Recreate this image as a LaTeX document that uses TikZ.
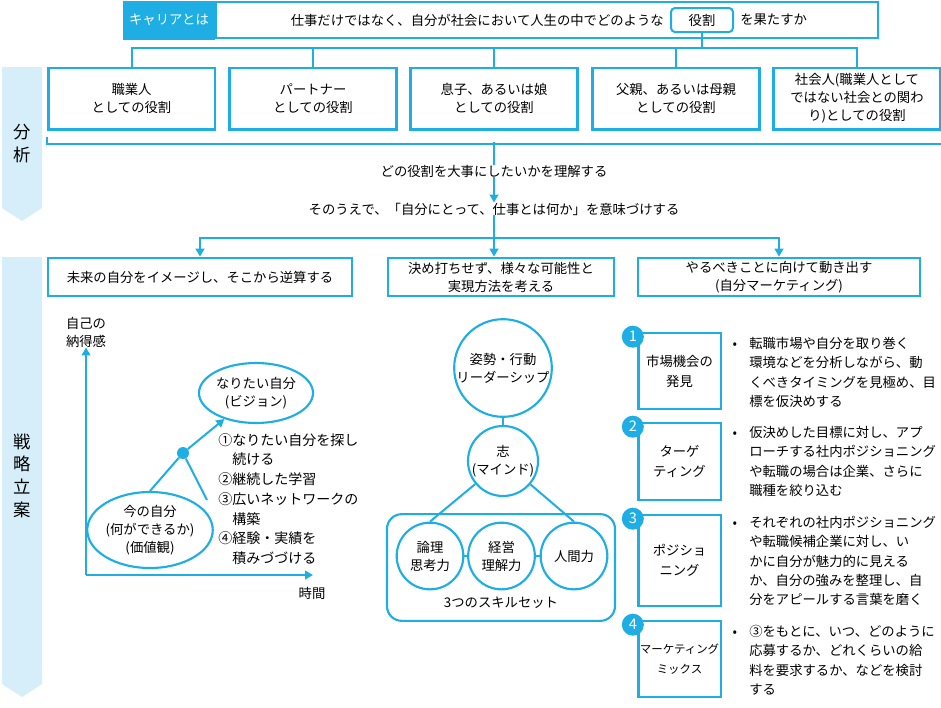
\documentclass[tikz,border=0pt]{standalone}
\usepackage{fontspec}
\setmainfont{Noto Sans CJK JP}
\usetikzlibrary{shapes.geometric,arrows.meta,calc,positioning}
\definecolor{cblue}{HTML}{1FAEE3}
\definecolor{clight}{HTML}{D5EEF9}
\tikzset{
  txt/.style={font=\fontsize{10}{13.5}\selectfont,inner sep=0pt,align=center},
  box/.style={txt,draw=cblue,line width=2pt},
  rolebox/.style={box,minimum width=125pt,minimum height=46pt},
  planbox/.style={box,minimum height=28.5pt},
  mixbox/.style={box,minimum width=62pt,font=\fontsize{10}{15}\selectfont},
  desc/.style={txt,align=left,anchor=north west,font=\fontsize{10}{14.5}\selectfont},
  side/.style={txt,font=\fontsize{13}{17}\selectfont},
  link/.style={draw=cblue,line width=1.5pt},
  arr/.style={link,-{Triangle[length=6pt,width=6.5pt]}},
  ring/.style={txt,circle,draw=cblue,line width=1.6pt},
  oval/.style={txt,ellipse,draw=cblue,line width=1.6pt},
  badge/.style={circle,fill=cblue,text=white,inner sep=0pt,minimum size=16.5pt,font=\fontsize{11}{11}\selectfont},
}
\begin{document}
\begin{tikzpicture}[x=0.75pt,y=-0.75pt]
  \useasboundingbox (0,0) rectangle (941,707);
  % side bands
  \fill[clight] (2,67) -- (42,67) -- (42,208) -- (22,221) -- (2,208) -- cycle;
  \fill[clight] (2,257) -- (42,257) -- (42,684) -- (22,697) -- (2,684) -- cycle;
  \node[side] (bunseki) at (22,143.5) {分\\析};
  \node[side] (senryaku) at (22,475.5) {戦\\略\\立\\案};

  % question
  \node[box,minimum width=497pt,minimum height=27pt] (qbox) at (546.5,20) {};
  \node[txt,fill=cblue,text=white,minimum width=69pt,minimum height=29.25pt] (career) at (169,20) {キャリアとは};
  \node[txt,anchor=east] (q1) at (664,20) {仕事だけではなく、自分が社会において人生の中でどのような};
  \node[txt,draw=cblue,line width=1.5pt,rounded corners=3pt,minimum width=46.5pt,minimum height=18pt] (yaku) at (702,20) {役割};
  \node[txt,anchor=west] (q2) at (740,20) {を果たすか};

  % roles
  \node[rolebox] (r1) at (131.5,98.5) {職業人\\としての役割};
  \node[rolebox] (r2) at (313,98.5) {パートナー\\としての役割};
  \node[rolebox] (r3) at (494,98.5) {息子、あるいは娘\\としての役割};
  \node[rolebox] (r4) at (676,98.5) {父親、あるいは母親\\としての役割};
  \node[rolebox] (r5) at (857,98.5) {社会人(職業人として\\ではない社会との関わ\\り)としての役割};
  \coordinate (hub) at (702,48);
  \draw[link] (yaku) -- (hub);
  \draw[link] (r1.north) |- (hub) -| (r5.north);
  \foreach \r in {r2,r3,r4}
    \draw[link] (\r.north) -- (\r.north |- hub);
  \draw[link] ($(r1.south west)+(0,6)$) -- ($(r1.south west)+(0,13)$)
    -- ($(r5.south east)+(0,13)$) -- ($(r5.south east)+(0,6)$);
  \coordinate (brc) at (494,142);

  \node[txt] (t1) at (494,171) {どの役割を大事にしたいかを理解する};
  \node[txt] (t2) at (494,209) {そのうえで、「自分にとって、仕事とは何か」を意味づけする};
  \draw[link] (brc) -- (t1);
  \draw[arr] (t1) -- (t2);

  % plans
  \node[planbox,minimum width=228pt] (pa) at (200,277) {未来の自分をイメージし、そこから逆算する};
  \node[planbox,minimum width=169.5pt] (pb) at (501,277) {決め打ちせず、様々な可能性と\\実現方法を考える};
  \node[planbox,minimum width=211.5pt] (pc) at (779,277) {やるべきことに向けて動き出す\\(自分マーケティング)};
  \coordinate (sp) at (494,238);
  \draw[link] (t2) -- (sp);
  \draw[arr] (sp) -| (pa);
  \draw[arr] (sp) -- (sp |- pb.north);
  \draw[arr] (sp) -| (pc);

  % vision chart
  \coordinate (o) at (86,575);
  \coordinate (xend) at (313,575);
  \node[txt] (ylab) at (86,332) {自己の\\納得感};
  \node[txt] (xlab) at (312,593) {時間};
  \draw[arr] (o) -- (ylab);
  \draw[arr] (o) -- (xend);
  \node[oval,minimum width=85.5pt,minimum height=45pt] (vision) at (256,393) {なりたい自分\\(ビジョン)};
  \node[oval,minimum width=84.75pt,minimum height=57pt] (now) at (150,530) {今の自分\\(何ができるか)\\(価値観)};
  \node[circle,fill=cblue,inner sep=0pt,minimum size=9pt] (dot) at (183,453) {};
  \coordinate (lend) at (207,500);
  \draw[arr] (dot) -- (vision);
  \draw[link] (dot) -- (now.north);
  \draw[link] (dot) -- (lend);
  \node[desc,font=\fontsize{10.5}{14.8}\selectfont] (steps) at (218,433) {①なりたい自分を探し\\\phantom{①}続ける\\②継続した学習\\③広いネットワークの\\\phantom{③}構築\\④経験・実績を\\\phantom{④}積みづづける};

  % mindset
  \node[ring,minimum size=51pt] (c1) at (503,368) {姿勢・行動\\リーダーシップ};
  \node[ring,minimum size=51pt] (c2) at (503,461) {志\\(マインド)};
  \node[txt,draw=cblue,line width=1.6pt,rounded corners=11pt,minimum width=171pt,minimum height=80pt] (skills) at (501,567.5) {};
  \node[ring,minimum size=50pt] (s1) at (430,556) {論理\\思考力};
  \node[ring,minimum size=50pt] (s2) at (501.5,556) {経営\\理解力};
  \node[ring,minimum size=50pt] (s3) at (574,556) {人間力};
  \node[txt] (skl) at (501,603) {3つのスキルセット};
  \draw[link] (c1) -- (c2);
  \draw[link] (c2) -- (s1.north);
  \draw[link] (c2) -- (s3.north);
  \draw[link] (s1) -- (s2);
  \draw[link] (s2) -- (s3);

  % marketing
  \node[mixbox,minimum height=57pt] (m1) at (679.5,371) {市場機会の\\発見};
  \node[mixbox,minimum height=57.75pt] (m2) at (679.5,461.5) {ターゲ\\ティング};
  \node[mixbox,minimum height=68.25pt] (m3) at (679.5,560.5) {ポジショ\\ニング};
  \node[mixbox,minimum height=57pt,font=\fontsize{8.6}{15}\selectfont] (m4) at (679.5,659) {マーケティング\\ミックス};
  \foreach \m/\n in {m1/1,m2/2,m3/3,m4/4}
    \node[badge] (b\n) at ($(\m.north west)+(-4,5)$) {\n};
  \node[desc] (d1) at (749,337) {\llap{•\hspace{9pt}}転職市場や自分を取り巻く\\環境などを分析しながら、動\\くべきタイミングを見極め、目\\標を仮決めする};
  \node[desc] (d2) at (749,426) {\llap{•\hspace{9pt}}仮決めした目標に対し、アプ\\ローチする社内ポジショニング\\や転職の場合は企業、さらに\\職種を絞り込む};
  \node[desc] (d3) at (749,516) {\llap{•\hspace{9pt}}それぞれの社内ポジショニング\\や転職候補企業に対し、い\\かに自分が魅力的に見える\\か、自分の強みを整理し、自\\分をアピールする言葉を磨く};
  \node[desc] (d4) at (749,625) {\llap{•\hspace{9pt}}③をもとに、いつ、どのように\\応募するか、どれくらいの給\\料を要求するか、などを検討\\する};
\end{tikzpicture}
\end{document}
